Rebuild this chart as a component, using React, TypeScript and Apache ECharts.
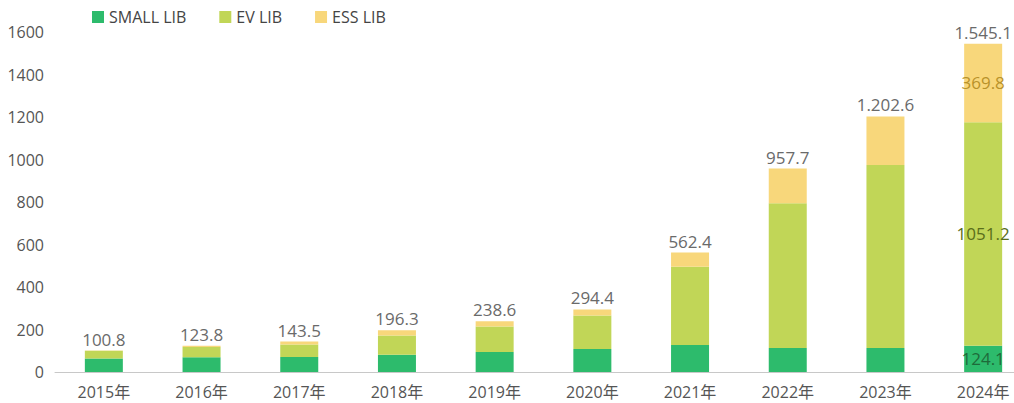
import React, { useEffect, useRef } from "react";
import * as echarts from "echarts";

const categories = ["2015年", "2016年", "2017年", "2018年", "2019年", "2020年", "2021年", "2022年", "2023年", "2024年"];
const smallLib = [64, 70, 71, 81, 94, 108, 127, 113, 113, 124.1];
const evLib = [35.8, 48, 58, 91, 120, 158, 368, 681, 861, 1051.2];
const essLib = [1.0, 5.8, 14.5, 24.3, 24.6, 28.4, 67.4, 163.7, 228.6, 369.8];
const totals = [100.8, 123.8, 143.5, 196.3, 238.6, 294.4, 562.4, 957.7, 1202.6, 1545.1];
const yTicks = { min: 0, max: 1600, interval: 200 };

const FONT = "'Open Sans', 'Noto Sans', 'Noto Sans CJK SC', sans-serif";

function fmtTotal(v: number): string {
  const s = v.toFixed(1);
  const [ip, dp] = s.split(".");
  const withSep = ip.replace(/\B(?=(\d{3})+(?!\d))/g, ".");
  return withSep + "." + dp;
}

export default function App() {
  const ref = useRef<HTMLDivElement>(null);
  useEffect(() => {
    document.body.style.margin = "0";
    document.body.style.overflow = "hidden";
    if (!ref.current) return;
    const chart = echarts.init(ref.current, undefined, { renderer: "svg" });
    const last = categories.length - 1;
    const insideLabel = (color: string) => ({
      show: true,
      position: "inside",
      color,
      fontSize: 17,
      fontFamily: FONT,
    });
    const mk = (arr: number[], color: string) =>
      arr.map((v, i) =>
        i === last ? { value: v, label: { ...insideLabel(color), formatter: v.toFixed(1) } } : v
      );
    chart.setOption({
      animation: false,
      textStyle: { fontFamily: FONT },
      legend: {
        data: ["SMALL LIB", "EV LIB", "ESS LIB"],
        left: 92,
        top: 9,
        padding: 0,
        icon: "rect",
        itemWidth: 12,
        itemHeight: 12,
        itemGap: 33,
        textStyle: { fontSize: 16, color: "#444", fontFamily: FONT },
      },
      grid: { left: 55, right: 0, top: 32, bottom: 31, containLabel: false },
      xAxis: {
        type: "category",
        data: categories,
        axisLine: { lineStyle: { color: "#c8c8c8" } },
        axisTick: { show: false },
        axisLabel: { fontSize: 16, color: "#555", margin: 12, fontFamily: FONT },
      },
      yAxis: {
        type: "value",
        min: yTicks.min,
        max: yTicks.max,
        interval: yTicks.interval,
        splitLine: { show: false },
        axisLine: { show: false },
        axisTick: { show: false },
        axisLabel: {
          fontSize: 16,
          color: "#555",
          margin: 11,
          fontFamily: FONT,
          formatter: (v: number) => String(v),
        },
      },
      series: [
        {
          name: "SMALL LIB",
          type: "bar",
          stack: "a",
          barWidth: 38,
          itemStyle: { color: "#2dbb6c" },
          data: mk(smallLib, "#1e6b3a"),
        },
        {
          name: "EV LIB",
          type: "bar",
          stack: "a",
          barWidth: 38,
          itemStyle: { color: "#c1d657" },
          data: mk(evLib, "#5a6e1a"),
        },
        {
          name: "ESS LIB",
          type: "bar",
          stack: "a",
          barWidth: 38,
          itemStyle: { color: "#f8d77b" },
          data: mk(essLib, "#b8922a"),
        },
        {
          name: "total",
          type: "line",
          data: totals,
          symbol: "circle",
          symbolSize: 2,
          showSymbol: true,
          itemStyle: { color: "rgba(0,0,0,0)" },
          lineStyle: { width: 0, color: "rgba(0,0,0,0)" },
          silent: true,
          z: 10,
          label: {
            show: true,
            position: "top",
            distance: 2,
            color: "#6a6a6a",
            fontSize: 17,
            fontFamily: FONT,
            formatter: (p: any) => fmtTotal(p.value),
          },
        },
      ],
    });
    return () => chart.dispose();
  }, []);
  return (
    <div style={{ width: 1014, height: 403, overflow: "hidden" }}>
      <div ref={ref} style={{ width: 1032, height: 403 }} />
    </div>
  );
}
